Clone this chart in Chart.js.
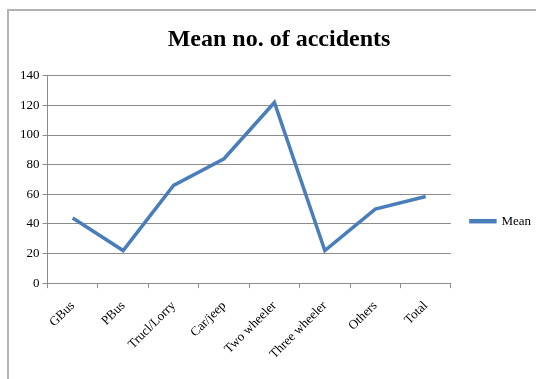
<!DOCTYPE html>
<html>
<head>
<meta charset="utf-8">
<script src="https://cdn.jsdelivr.net/npm/chart.js@4"></script>
<style>
  html, body { margin: 0; padding: 0; background: #fff; }
  #wrap { position: relative; width: 536px; height: 379px; overflow: hidden; }
  #frame { position: absolute; left: 7px; top: 9px; right: -5px; bottom: -5px; border-left: 2px solid #b4b4b4; border-top: 2px solid #b4b4b4; }
  canvas { position: absolute; left: 0; top: 0; }
</style>
</head>
<body>
<div id="wrap">
  <div id="frame"></div>
  <canvas id="c" width="536" height="379"></canvas>
</div>
<script>
const categories = ["GBus", "PBus", "Trucl/Lorry", "Car/jeep", "Two wheeler", "Three wheeler", "Others", "Total"];
const meanValues = [44, 22, 66, 84, 122, 22, 50, 58.5];
const seriesName = "Mean";
const chartTitle = "Mean no. of accidents";
const yTicks = [0, 20, 40, 60, 80, 100, 120, 140];

const serif = "'Liberation Serif', 'Times New Roman', serif";
const gridColor = "#8c8c8c";

new Chart(document.getElementById("c"), {
  type: "line",
  data: {
    labels: categories,
    datasets: [{
      label: seriesName,
      data: meanValues,
      borderColor: "#4a7ebb",
      backgroundColor: "#4a7ebb",
      borderWidth: 3.5,
      pointRadius: 0,
      tension: 0,
      fill: false
    }]
  },
  options: {
    responsive: false,
    animation: false,
    layout: { padding: { left: 17, right: -5, top: 14, bottom: 7 } },
    plugins: {
      title: {
        display: true,
        text: chartTitle,
        color: "#000",
        font: { family: serif, size: 24, weight: "bold" },
        padding: { top: 11, bottom: 22 }
      },
      legend: {
        position: "right",
        title: { display: true, text: "", padding: { top: 42, bottom: 0 } },
        labels: {
          color: "#000",
          font: { family: serif, size: 13 },
          boxWidth: 24,
          boxHeight: 1,
          padding: 20
        }
      },
      tooltip: { enabled: false }
    },
    scales: {
      x: {
        offset: true,
        grid: { display: true, drawOnChartArea: false, color: gridColor, tickLength: 5, offset: true },
        border: { display: true, color: gridColor, width: 1 },
        ticks: {
          color: "#000",
          font: { family: serif, size: 13 },
          minRotation: 45,
          maxRotation: 45,
          autoSkip: false,
          padding: 10
        }
      },
      y: {
        min: 0,
        max: 140,
        afterBuildTicks: (axis) => { axis.ticks = yTicks.map(v => ({ value: v })); },
        grid: { color: gridColor, tickLength: 5, lineWidth: 1 },
        border: { display: true, color: gridColor, width: 1 },
        ticks: {
          color: "#000",
          font: { family: serif, size: 13 },
          padding: 3,
          stepSize: 20
        }
      }
    }
  }
});
</script>
</body>
</html>
